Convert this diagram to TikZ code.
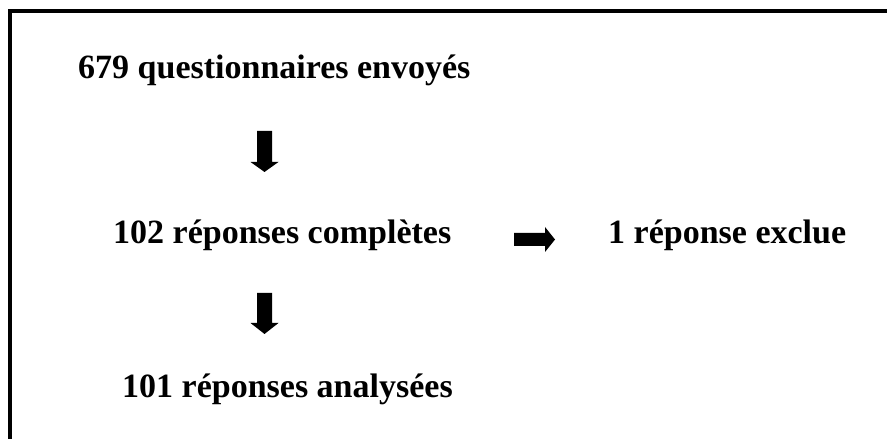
\documentclass[tikz,border=0pt]{standalone}
\usepackage{fontspec}
\setmainfont{Liberation Serif}
\begin{document}
\begin{tikzpicture}[x=1pt,y=1pt,
  lbl/.style={anchor=base west,inner sep=0pt,font=\bfseries\fontsize{34}{40}\selectfont},
  blockarrow/.style={fill=black}]
\useasboundingbox (0,0) rectangle (887,439);
% frame (only left and top edges visible)
\draw[line width=4pt,line join=miter] (10,-5) -- (10,428) -- (892,428);
% texts
\node[lbl] (envoyes) at (78,360) {679 questionnaires envoyés};
\node[lbl] (completes) at (113,195) {102 réponses complètes};
\node[lbl] (exclue) at (608,195) {1 réponse exclue};
\node[lbl] (analysees) at (122,41) {101 réponses analysées};
% arrow anchors
\coordinate (d1) at (264.5,308);
\coordinate (d2) at (264.5,146);
\coordinate (r1) at (514,199.5);
% down arrows
\fill[blockarrow] ([xshift=-7.5]d1) -- ++(0,-31) -- ++(-6.5,0) -- ([yshift=-41]d1) -- ++(14,10) -- ++(-6.5,0) -- ++(0,31) -- cycle;
\fill[blockarrow] ([xshift=-7.5]d2) -- ++(0,-30) -- ++(-6.5,0) -- ([yshift=-41]d2) -- ++(14,11) -- ++(-6.5,0) -- ++(0,30) -- cycle;
% right arrow
\fill[blockarrow] ([yshift=6.5]r1) -- ++(31,0) -- ++(0,6) -- ([xshift=41]r1) -- ++(-10,-12.5) -- ++(0,6) -- ++(-31,0) -- cycle;
\end{tikzpicture}
\end{document}
